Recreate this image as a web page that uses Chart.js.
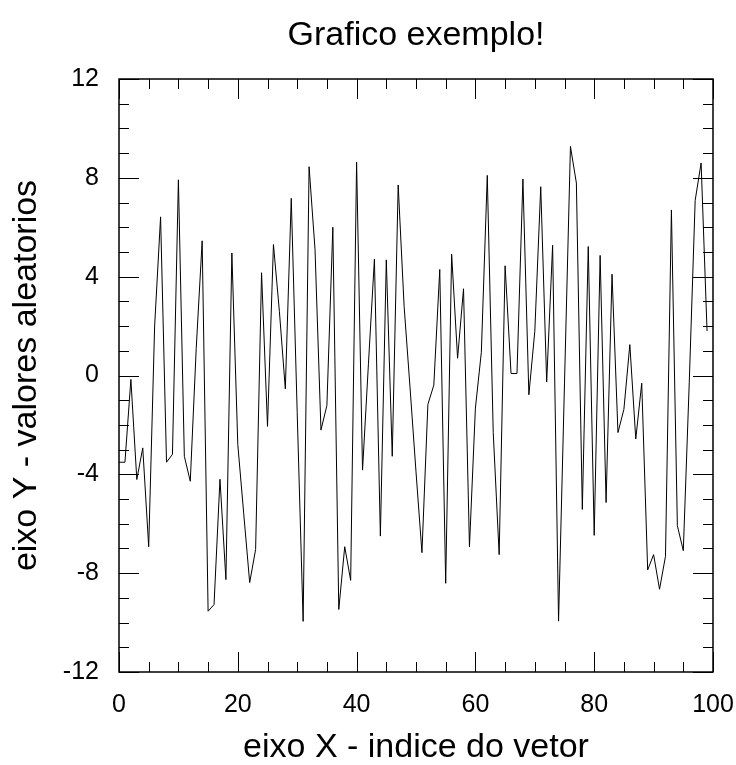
<!DOCTYPE html>
<html>
<head>
<meta charset="utf-8">
<script src="https://cdn.jsdelivr.net/npm/chart.js@4.4.1/dist/chart.umd.min.js"></script>
<style>
  body { margin: 0; background: #fff; }
  #wrap { width: 736px; height: 765px; }
</style>
</head>
<body>
<div id="wrap"><canvas id="grafico" width="736" height="765"></canvas></div>
<script>
// dados (indice 0..99)
const indices = [
  0, 1, 2, 3, 4, 5, 6, 7, 8, 9, 10, 11, 12, 13, 14, 15, 16, 17, 18, 19,
  20, 21, 22, 23, 24, 25, 26, 27, 28, 29, 30, 31, 32, 33, 34, 35, 36, 37, 38, 39,
  40, 41, 42, 43, 44, 45, 46, 47, 48, 49, 50, 51, 52, 53, 54, 55, 56, 57, 58, 59,
  60, 61, 62, 63, 64, 65, 66, 67, 68, 69, 70, 71, 72, 73, 74, 75, 76, 77, 78, 79,
  80, 81, 82, 83, 84, 85, 86, 87, 88, 89, 90, 91, 92, 93, 94, 95, 96, 97, 98, 99
];
const valores = [
  -3.51, -3.51, -0.16, -4.21, -2.93, -6.93, 2.0, 6.42, -3.51, -3.19,
  7.92, -3.27, -4.28, 1.1, 5.45, -9.54, -9.27, -4.2, -8.26, 4.96,
  -2.8, -5.6, -8.38, -7.04, 4.16, -2.06, 5.3, 2.6, -0.54, 7.17,
  -1.5, -9.95, 8.45, 5.1, -2.21, -1.21, 6.0, -9.47, -6.93, -8.29,
  8.63, -3.83, 0.5, 4.71, -6.5, 4.68, -3.27, 7.71, 2.8, -0.5,
  -3.9, -7.17, -1.17, -0.39, 4.29, -8.41, 4.91, 0.7, 3.51, -6.93,
  -1.32, 0.94, 8.1, -2.3, -7.25, 4.44, 0.08, 0.08, 7.95, -0.78,
  1.79, 7.64, -0.26, 5.27, -9.94, -0.3, 9.27, 7.79, -5.42, 5.22,
  -6.47, 4.86, -5.14, 4.1, -2.31, -1.37, 1.25, -2.57, -0.31, -7.87,
  -7.25, -8.65, -7.32, 6.7, -6.08, -7.09, -0.3, 7.09, 8.6, 1.8
];
const xTicks = [0, 20, 40, 60, 80, 100];
const yTicks = [-12, -8, -4, 0, 4, 8, 12];

const fonte = '"Liberation Sans", Arial, sans-serif';

// moldura + marcas para dentro nos 4 lados
const moldura = {
  id: 'moldura',
  afterDatasetsDraw(chart) {
    const { ctx, chartArea: a, scales: { x, y } } = chart;
    ctx.save();
    ctx.strokeStyle = '#000';
    ctx.lineWidth = 1;
    ctx.beginPath();
    for (let v = 0; v <= 100; v += 5) {
      const px = Math.round(x.getPixelForValue(v)) + 0.5;
      const len = xTicks.includes(v) ? 20 : 10;
      ctx.moveTo(px, a.bottom); ctx.lineTo(px, a.bottom - len);
      ctx.moveTo(px, a.top); ctx.lineTo(px, a.top + len);
    }
    for (let v = -12; v <= 12; v += 1) {
      const py = Math.round(y.getPixelForValue(v)) + 0.5;
      const len = yTicks.includes(v) ? 20 : 10;
      ctx.moveTo(a.left, py); ctx.lineTo(a.left + len, py);
      ctx.moveTo(a.right, py); ctx.lineTo(a.right - len, py);
    }
    ctx.stroke();
    ctx.lineWidth = 1.5;
    ctx.strokeRect(a.left, a.top, a.right - a.left, a.bottom - a.top);
    // titulo centrado na area do grafico
    ctx.fillStyle = '#000';
    ctx.font = '34px ' + fonte;
    ctx.textAlign = 'center';
    ctx.textBaseline = 'alphabetic';
    ctx.fillText('Grafico exemplo!', (a.left + a.right) / 2, 45);
    ctx.restore();
  }
};

new Chart(document.getElementById('grafico'), {
  type: 'line',
  data: {
    datasets: [{
      data: indices.map((i, k) => ({ x: i, y: valores[k] })),
      borderColor: '#000',
      borderWidth: 1,
      pointRadius: 0,
      tension: 0,
      fill: false
    }]
  },
  options: {
    responsive: false,
    animation: false,
    layout: { padding: { top: 79, right: 23, left: 0, bottom: 0 } },
    plugins: { legend: { display: false }, tooltip: { enabled: false } },
    scales: {
      x: {
        type: 'linear', min: 0, max: 100,
        afterBuildTicks: s => { s.ticks = xTicks.map(v => ({ value: v })); },
        afterFit: s => { s.height = 93; s.paddingLeft = 0; s.paddingRight = 0; },
        grid: { display: false, drawTicks: false },
        border: { display: false },
        ticks: { color: '#000', padding: 18, maxRotation: 0, font: { family: fonte, size: 25 } },
        title: {
          display: true, text: 'eixo X - indice do vetor', color: '#000',
          padding: { top: 0, bottom: 0 },
          font: { family: fonte, size: 34, lineHeight: 1 }
        }
      },
      y: {
        type: 'linear', min: -12, max: 12,
        afterBuildTicks: s => { s.ticks = yTicks.map(v => ({ value: v })); },
        afterFit: s => { s.width = 119; s.paddingTop = 0; s.paddingBottom = 0; },
        grid: { display: false, drawTicks: false },
        border: { display: false },
        ticks: { color: '#000', padding: 20, font: { family: fonte, size: 25 } },
        title: {
          display: true, text: 'eixo Y - valores aleatorios', color: '#000',
          padding: { top: 10, bottom: 0 },
          font: { family: fonte, size: 34, lineHeight: 1 }
        }
      }
    }
  },
  plugins: [moldura]
});
</script>
</body>
</html>
